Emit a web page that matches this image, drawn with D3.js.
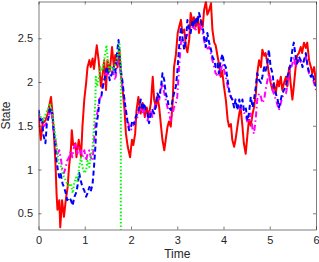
<!DOCTYPE html>
<html><head><meta charset="utf-8">
<script src="https://cdn.jsdelivr.net/npm/d3@7"></script>
<style>body{margin:0;background:#fff}svg{display:block}</style>
</head><body><svg id="c" width="319" height="262"></svg>
<script>
const xTicks = [0,1,2,3,4,5,6];
const yTicks = [0.5,1,1.5,2,2.5];
const xLabel = "Time";
const yLabel = "State";

const redData = [[0,1.62],[0.05,1.34],[0.09,1.53],[0.15,1.56],[0.2,1.64],[0.27,1.83],[0.31,1.6],[0.34,1.34],[0.37,1.03],[0.39,0.73],[0.41,0.54],[0.45,0.65],[0.47,0.34],[0.51,0.65],[0.55,0.46],[0.59,0.65],[0.63,0.8],[0.66,1.03],[0.7,1.22],[0.72,1.45],[0.75,1.28],[0.8,1.3],[0.82,1.14],[0.87,1.34],[0.92,1.14],[0.95,1.49],[0.99,1.8],[1.03,1.99],[1.06,2.17],[1.1,2.25],[1.13,2.17],[1.17,2.27],[1.2,2.15],[1.26,2.42],[1.3,2.25],[1.35,1.95],[1.39,2.1],[1.42,2.25],[1.46,1.91],[1.49,2.25],[1.54,2.12],[1.59,2.4],[1.63,2.17],[1.66,2.31],[1.71,2.17],[1.75,2.37],[1.78,2.1],[1.82,1.91],[1.86,1.68],[1.89,1.41],[1.93,1.26],[1.98,1.14],[2.02,1.34],[2.05,1.28],[2.09,1.41],[2.12,1.68],[2.16,1.83],[2.21,1.64],[2.25,1.76],[2.3,1.6],[2.34,1.71],[2.38,1.6],[2.43,1.76],[2.47,2.06],[2.5,1.8],[2.54,1.71],[2.57,1.84],[2.61,1.71],[2.65,1.49],[2.68,1.34],[2.72,1.22],[2.75,1.34],[2.79,1.49],[2.82,1.55],[2.86,1.49],[2.9,1.76],[2.93,2.17],[2.97,2.31],[3.01,2.56],[3.04,2.63],[3.08,2.71],[3.11,2.56],[3.15,2.6],[3.19,2.4],[3.22,2.34],[3.26,2.49],[3.29,2.79],[3.33,2.68],[3.36,2.74],[3.4,2.63],[3.44,2.74],[3.47,2.56],[3.51,2.71],[3.55,2.63],[3.58,2.82],[3.62,2.92],[3.65,2.77],[3.69,2.82],[3.73,2.9],[3.76,2.6],[3.8,2.45],[3.83,2.42],[3.87,2.3],[3.9,2.21],[3.94,2.06],[3.97,2.13],[4.01,1.95],[4.05,1.8],[4.09,1.57],[4.12,1.49],[4.16,1.52],[4.19,1.34],[4.23,1.26],[4.26,1.34],[4.3,1.49],[4.34,1.64],[4.37,1.71],[4.41,1.49],[4.44,1.3],[4.48,1.18],[4.52,1.41],[4.55,1.57],[4.59,1.5],[4.63,1.64],[4.66,1.71],[4.7,1.87],[4.73,2.1],[4.77,2.25],[4.81,2.17],[4.84,2.37],[4.88,2.3],[4.91,2.33],[4.95,2.21],[4.98,2.1],[5.02,1.99],[5.06,1.91],[5.09,1.99],[5.13,1.87],[5.17,2.02],[5.2,1.95],[5.24,2.06],[5.27,1.91],[5.31,1.99],[5.35,2.06],[5.38,1.95],[5.42,2.17],[5.45,1.99],[5.49,1.8],[5.52,1.95],[5.56,2.17],[5.59,2.3],[5.63,2.33],[5.67,2.4],[5.7,2.33],[5.74,2.45],[5.78,2.39],[5.81,2.45],[5.85,2.25],[5.89,2.17],[5.92,2.1],[5.96,2.17],[6.0,1.99]];

const blueData = [[0,1.68],[0.04,1.56],[0.08,1.6],[0.1,1.41],[0.15,1.3],[0.18,1.52],[0.22,1.6],[0.25,1.71],[0.3,1.64],[0.32,1.49],[0.36,1.3],[0.39,1.1],[0.42,0.99],[0.45,0.91],[0.48,0.95],[0.52,0.84],[0.55,0.8],[0.59,0.73],[0.62,0.65],[0.67,0.68],[0.7,0.65],[0.74,0.59],[0.77,0.68],[0.81,0.73],[0.84,0.8],[0.88,0.96],[0.91,0.88],[0.95,0.8],[0.99,0.76],[1.03,0.69],[1.06,0.73],[1.1,0.8],[1.13,0.75],[1.17,0.84],[1.2,1.03],[1.23,1.26],[1.25,1.49],[1.29,1.64],[1.32,1.8],[1.36,1.84],[1.39,1.95],[1.44,2.06],[1.47,2.17],[1.49,2.17],[1.54,2.02],[1.59,2.1],[1.62,2.17],[1.66,2.1],[1.69,2.29],[1.73,2.48],[1.76,2.25],[1.79,2.1],[1.82,1.99],[1.85,1.83],[1.89,1.68],[1.93,1.52],[1.96,1.45],[2.0,1.49],[2.03,1.56],[2.07,1.52],[2.1,1.6],[2.14,1.64],[2.18,1.71],[2.21,1.8],[2.25,1.68],[2.28,1.76],[2.32,1.68],[2.36,1.64],[2.39,1.53],[2.43,1.64],[2.46,1.68],[2.5,1.64],[2.53,1.71],[2.57,1.87],[2.61,1.83],[2.65,1.95],[2.68,2.1],[2.72,2.02],[2.75,1.87],[2.79,1.8],[2.82,1.71],[2.86,1.68],[2.9,1.8],[2.93,1.87],[2.97,1.95],[3.0,2.1],[3.04,2.4],[3.08,2.63],[3.11,2.52],[3.15,2.37],[3.19,2.49],[3.22,2.71],[3.26,2.6],[3.29,2.56],[3.33,2.71],[3.36,2.63],[3.4,2.74],[3.44,2.67],[3.47,2.79],[3.51,2.71],[3.55,2.63],[3.58,2.52],[3.62,2.4],[3.65,2.56],[3.69,2.45],[3.73,2.37],[3.76,2.29],[3.8,2.25],[3.83,2.17],[3.87,2.21],[3.9,2.1],[3.94,2.25],[3.98,2.32],[4.01,2.21],[4.05,2.17],[4.09,2.02],[4.12,1.91],[4.16,1.83],[4.19,1.8],[4.23,1.71],[4.26,1.8],[4.3,1.68],[4.34,1.8],[4.37,1.71],[4.41,1.8],[4.44,1.68],[4.48,1.71],[4.52,1.56],[4.55,1.64],[4.59,1.83],[4.63,1.71],[4.66,1.8],[4.7,1.95],[4.73,2.1],[4.77,2.02],[4.81,1.99],[4.84,2.06],[4.88,2.17],[4.91,2.13],[4.95,2.21],[4.98,2.37],[5.02,2.17],[5.06,2.1],[5.09,1.95],[5.13,1.87],[5.17,1.8],[5.2,1.71],[5.24,1.8],[5.27,1.87],[5.31,1.91],[5.35,1.95],[5.38,2.06],[5.42,2.13],[5.45,2.21],[5.49,2.37],[5.52,2.45],[5.56,2.29],[5.59,2.21],[5.63,2.29],[5.67,2.25],[5.71,2.17],[5.74,2.25],[5.78,2.33],[5.81,2.21],[5.85,2.1],[5.89,2.06],[5.92,2.1],[5.96,2.02],[6.0,1.95]];

const magentaData = [[0,1.64],[0.05,1.56],[0.1,1.49],[0.16,1.52],[0.22,1.6],[0.27,1.71],[0.3,1.56],[0.34,1.41],[0.38,1.3],[0.41,1.18],[0.45,1.22],[0.49,1.1],[0.52,0.99],[0.55,0.96],[0.59,1.03],[0.62,1.1],[0.66,1.14],[0.7,1.22],[0.73,1.14],[0.77,1.26],[0.81,1.3],[0.84,1.18],[0.88,1.26],[0.91,1.22],[0.95,1.14],[0.99,1.22],[1.03,1.1],[1.06,1.18],[1.1,1.22],[1.13,1.14],[1.17,1.1],[1.2,1.34],[1.24,1.56],[1.27,1.64],[1.31,1.8],[1.35,1.83],[1.39,1.95],[1.42,2.02],[1.46,2.1],[1.49,2.1],[1.54,2.06],[1.6,2.13],[1.66,2.02],[1.71,2.25],[1.75,2.21],[1.8,2.0],[1.85,1.83],[1.89,1.64],[1.93,1.56],[1.96,1.49],[2.0,1.45],[2.03,1.49],[2.07,1.52],[2.1,1.56],[2.14,1.6],[2.18,1.68],[2.21,1.71],[2.25,1.64],[2.28,1.68],[2.32,1.6],[2.36,1.56],[2.39,1.64],[2.43,1.68],[2.46,1.6],[2.5,1.68],[2.53,1.76],[2.57,1.83],[2.61,1.8],[2.65,1.91],[2.68,1.99],[2.72,1.87],[2.75,1.8],[2.79,1.71],[2.82,1.64],[2.86,1.56],[2.9,1.64],[2.93,1.71],[2.97,1.76],[3.0,1.83],[3.04,2.17],[3.08,2.45],[3.11,2.49],[3.15,2.45],[3.19,2.52],[3.26,2.56],[3.33,2.63],[3.4,2.6],[3.47,2.67],[3.55,2.56],[3.62,2.37],[3.69,2.4],[3.76,2.25],[3.83,2.1],[3.9,2.06],[3.98,2.21],[4.05,2.06],[4.09,1.95],[4.12,1.87],[4.19,1.8],[4.26,1.76],[4.34,1.71],[4.41,1.68],[4.48,1.62],[4.52,1.53],[4.55,1.56],[4.59,1.64],[4.63,1.45],[4.66,1.41],[4.7,1.6],[4.73,1.8],[4.77,1.87],[4.81,1.83],[4.84,1.76],[4.88,1.8],[4.91,1.91],[4.95,2.02],[4.98,2.1],[5.02,2.02],[5.06,1.91],[5.13,1.8],[5.2,1.68],[5.24,1.76],[5.27,1.83],[5.35,1.87],[5.38,1.95],[5.42,2.1],[5.49,2.21],[5.52,2.29],[5.56,2.17],[5.63,2.25],[5.71,2.21],[5.78,2.29],[5.85,2.1],[5.92,2.06],[6.0,1.91]];

const greenData = [[0,1.64],[0.05,1.6],[0.1,1.56],[0.16,1.64],[0.22,1.71],[0.25,1.76],[0.29,1.66],[0.32,1.56],[0.36,1.41],[0.39,1.26],[0.42,1.14],[0.45,1.06],[0.49,1.03],[0.52,0.96],[0.55,0.92],[0.59,0.87],[0.62,0.84],[0.66,0.8],[0.7,0.84],[0.74,0.73],[0.77,0.84],[0.81,0.91],[0.84,0.87],[0.88,1.03],[0.92,1.14],[0.95,1.03],[0.99,0.96],[1.03,0.99],[1.06,1.1],[1.1,1.03],[1.13,1.14],[1.17,1.26],[1.2,1.49],[1.23,1.8],[1.24,2.06],[1.27,1.95],[1.31,2.06],[1.34,2.17],[1.38,2.13],[1.42,2.25],[1.47,2.42],[1.5,2.25],[1.53,2.13],[1.57,2.17],[1.61,2.13],[1.66,2.2],[1.71,2.29],[1.75,2.45],[1.78,2.2],[1.78,0]];

const series = [
  {data: redData, color: "#ff0000", dash: null},
  {data: magentaData, color: "#ff00ff", dash: "6,3,1.5,3"},
  {data: blueData, color: "#0000ff", dash: "5,3"},
  {data: greenData, color: "#00ff00", dash: "1.5,2"}
];

const L = 38.5, R = 316, T = 1.5, B = 229.5;
const x = d3.scaleLinear().domain([0, 6]).range([L, R]);
const y = d3.scaleLinear().domain([0.315, 2.92]).range([B, T]);

const svg = d3.select("#c");
svg.append("defs").append("clipPath").attr("id","clip")
  .append("rect").attr("x",L).attr("y",T).attr("width",R-L).attr("height",B-T);

const line = d3.line().x(d => x(d[0])).y(d => y(d[1]));
const g = svg.append("g").attr("clip-path","url(#clip)");
series.forEach(s => {
  g.append("path").attr("d", line(s.data))
    .attr("fill","none").attr("stroke", s.color).attr("stroke-width", 2)
    .attr("stroke-linejoin","round")
    .attr("stroke-dasharray", s.dash);
});

const axColor = "#262626";
const font = "'Liberation Sans', Arial, Helvetica, sans-serif";
function styleAxis(sel, labels) {
  sel.select(".domain").attr("stroke", axColor).attr("stroke-width", 0.6);
  sel.selectAll(".tick line").attr("stroke", axColor).attr("stroke-width", 0.6);
  sel.selectAll(".tick text").attr("fill", axColor).attr("font-family", font).attr("font-size", 11);
  if (!labels) sel.selectAll(".tick text").remove();
}
svg.append("g").attr("transform",`translate(0,${B})`)
  .call(d3.axisBottom(x).tickValues(xTicks).tickFormat(d3.format("d")).tickSize(-3).tickSizeOuter(0).tickPadding(6.5))
  .call(s => styleAxis(s, true));
svg.append("g").attr("transform",`translate(0,${T})`)
  .call(d3.axisTop(x).tickValues(xTicks).tickSize(-3).tickSizeOuter(0))
  .call(s => styleAxis(s, false));
svg.append("g").attr("transform",`translate(${L},0)`)
  .call(d3.axisLeft(y).tickValues(yTicks).tickFormat(d => d3.format("")(d)).tickSize(-3).tickSizeOuter(0).tickPadding(5.5))
  .call(s => styleAxis(s, true));
svg.append("g").attr("transform",`translate(${R},0)`)
  .call(d3.axisRight(y).tickValues(yTicks).tickSize(-3).tickSizeOuter(0))
  .call(s => styleAxis(s, false));

svg.append("text").attr("x", (L+R)/2).attr("y", 258).attr("text-anchor","middle")
  .attr("fill", axColor).attr("font-family", font).attr("font-size", 12).text(xLabel);
svg.append("text").attr("transform", `translate(10,${(T+B)/2}) rotate(-90)`).attr("text-anchor","middle")
  .attr("fill", axColor).attr("font-family", font).attr("font-size", 12).text(yLabel);
</script></body></html>
